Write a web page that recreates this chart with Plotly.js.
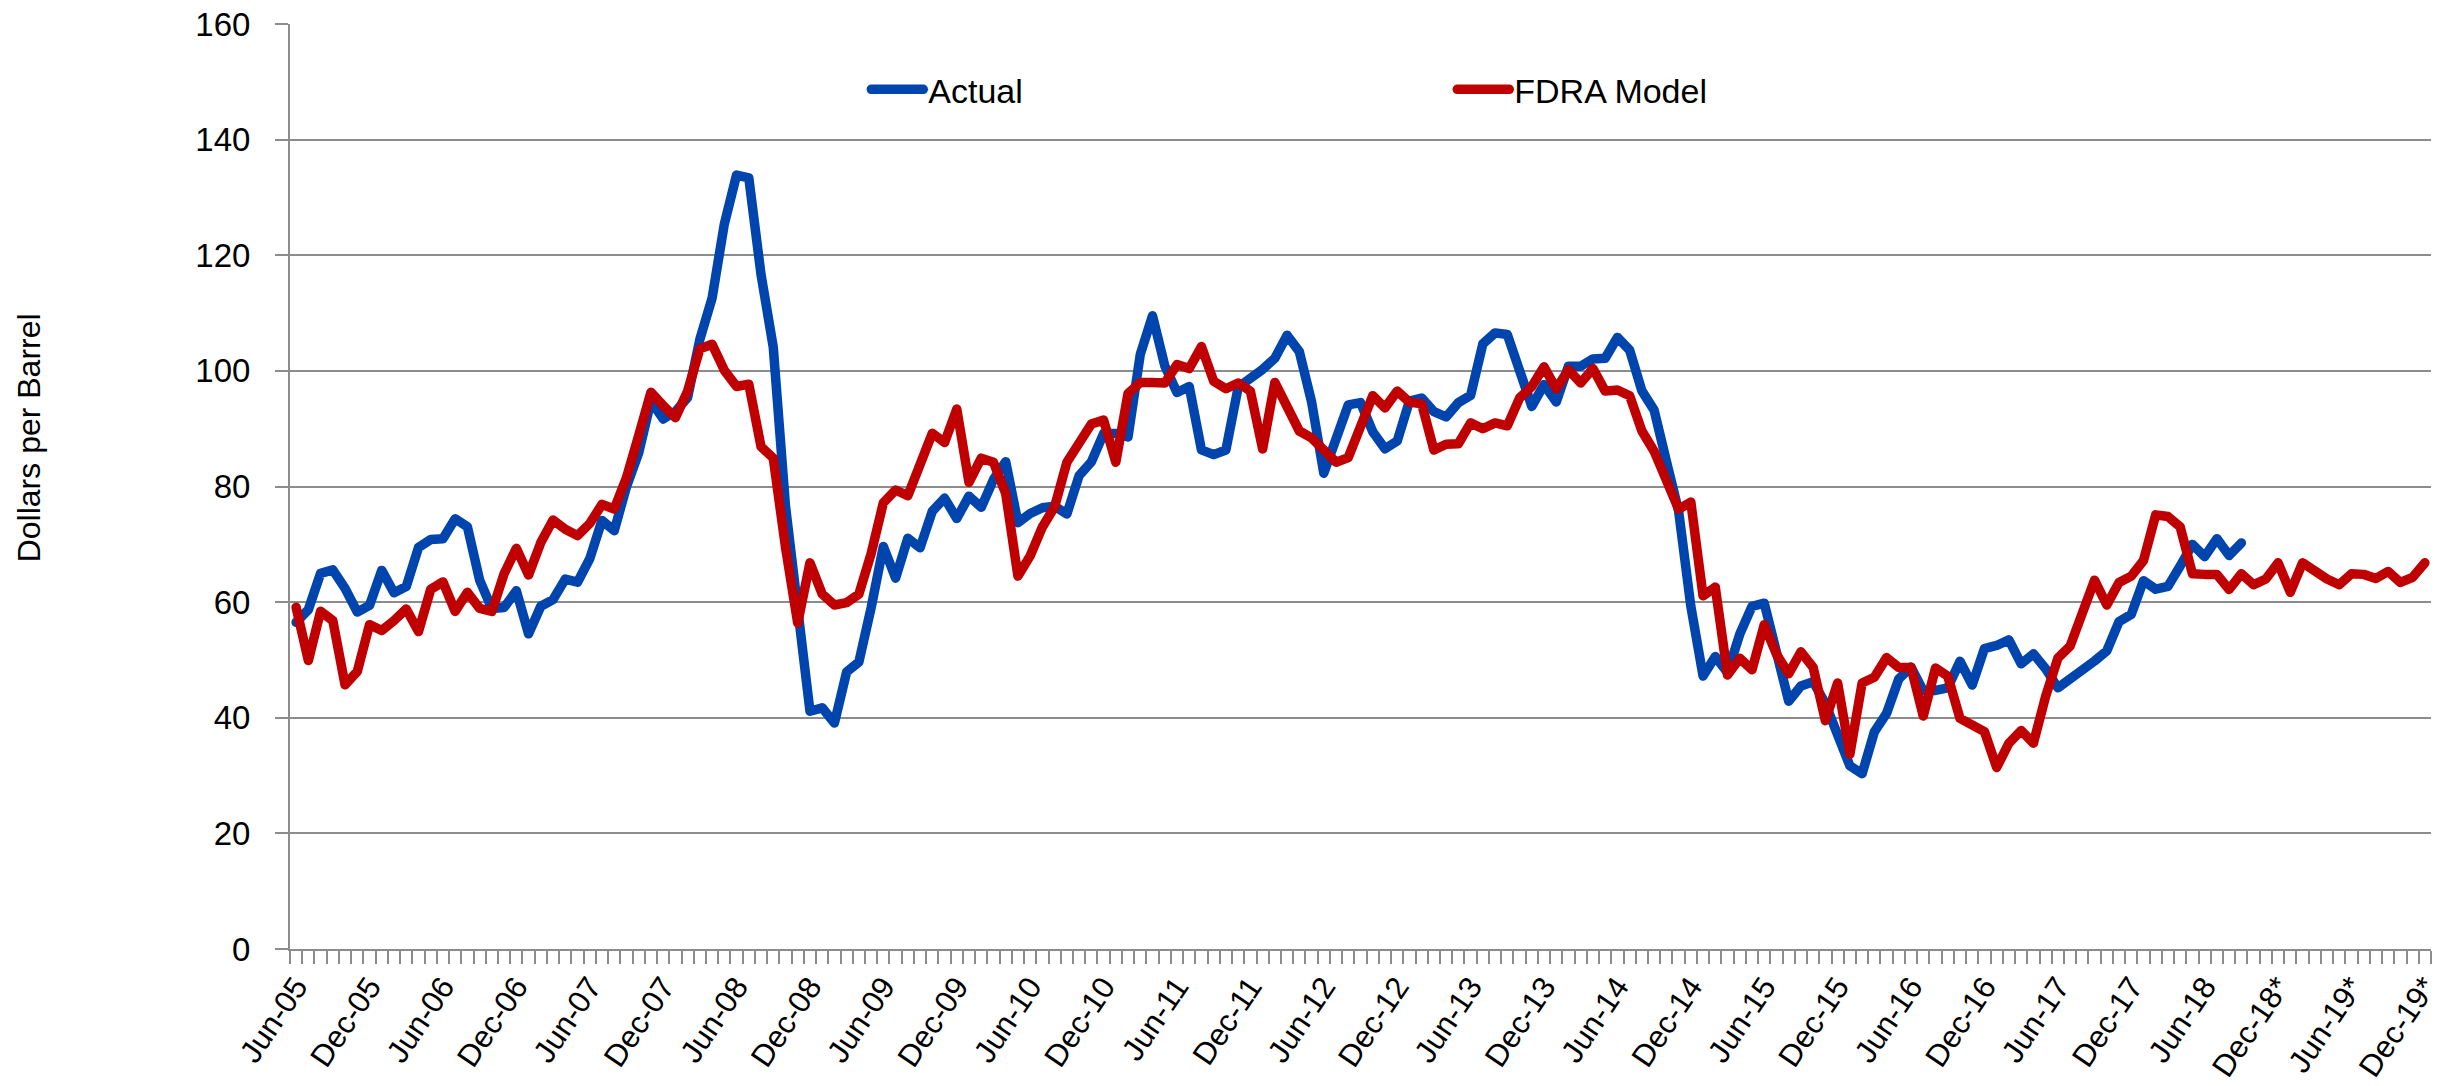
<!DOCTYPE html>
<html><head><meta charset="utf-8">
<script src="https://cdn.plot.ly/plotly-3.0.1.min.js"></script>
<style>
html,body{margin:0;padding:0;background:#fff;}
#chart{width:2458px;height:1086px;}
.js-line{stroke-linejoin:round !important;stroke-linecap:round !important;}
</style>
</head><body><div id="chart"></div>
<script>
const tickLabels = ["Jun-05","Dec-05","Jun-06","Dec-06","Jun-07","Dec-07","Jun-08","Dec-08","Jun-09","Dec-09",
  "Jun-10","Dec-10","Jun-11","Dec-11","Jun-12","Dec-12","Jun-13","Dec-13","Jun-14","Dec-14",
  "Jun-15","Dec-15","Jun-16","Dec-16","Jun-17","Dec-17","Jun-18","Dec-18*","Jun-19*","Dec-19*"];
const monthsPerLabel = 6;
const yTicks = [0,20,40,60,80,100,120,140,160];
const seriesNames = ["Actual","FDRA Model"];

// Actual: Jun-05 .. Sep-18 (monthly)
const actual = [
  56.50,58.70,64.97,65.57,62.37,58.30,59.43,
  65.49,61.63,62.69,69.44,70.84,70.95,74.41,73.04,63.80,58.89,59.08,61.96,
  54.51,59.28,60.44,63.98,63.45,67.49,74.12,72.36,79.92,85.80,94.77,91.69,
  92.97,95.39,105.45,112.58,125.40,133.88,133.37,116.67,104.11,76.61,57.31,41.12,
  41.71,39.09,47.94,49.65,59.03,69.64,64.15,71.05,69.41,75.72,77.99,74.47,
  78.33,76.39,81.20,84.29,73.74,75.34,76.32,76.60,75.24,81.89,84.25,89.15,
  89.17,88.58,102.86,109.53,100.90,96.26,97.30,86.33,85.52,86.32,97.16,98.56,
  100.27,102.20,106.16,103.32,94.66,82.30,87.90,94.13,94.51,89.49,86.53,87.86,
  94.76,95.31,92.94,92.02,94.51,95.77,104.67,106.57,106.29,100.54,93.86,97.63,
  94.62,100.82,100.80,102.07,102.18,105.79,103.59,96.54,93.21,84.40,75.79,59.29,
  47.22,50.58,47.82,54.45,59.27,59.82,50.90,42.87,45.48,46.22,42.44,37.19,
  31.68,30.32,37.55,40.75,46.71,48.76,44.65,44.72,45.18,49.78,45.66,51.97,
  52.50,53.47,49.33,51.06,48.48,45.18,46.63,48.04,49.82,51.58,56.64,57.88,
  63.70,62.23,62.73,66.25,69.98,67.87,70.98,68.06,70.23
];

// FDRA Model: Jun-05 .. Dec-19 (monthly)
const fdraModel = [
  59.1,49.9,58.4,56.8,45.7,48.0,56.1,
  55.1,56.8,58.8,54.9,62.2,63.5,58.4,61.7,58.9,58.4,64.9,69.3,
  64.7,70.3,74.2,72.6,71.5,73.6,76.9,76.1,81.5,88.8,96.3,94.0,
  91.9,96.5,103.8,104.6,100.1,97.3,97.7,86.9,84.9,69.5,56.4,66.8,
  61.4,59.5,59.9,61.4,68.4,77.2,79.4,78.4,84.2,89.2,87.6,93.4,
  80.7,84.9,84.2,78.8,64.5,68.0,73.0,76.5,84.2,87.3,90.8,91.5,
  84.2,96.1,98.0,98.0,97.9,101.1,100.4,104.2,98.2,96.9,97.9,96.5,
  86.5,98.0,93.8,89.6,88.4,86.1,84.2,85.0,90.2,95.7,93.6,96.5,
  94.6,94.3,86.3,87.3,87.4,91.0,90.0,91.0,90.5,95.3,97.3,100.7,
  96.9,100.2,97.9,100.4,96.5,96.7,95.7,89.6,86.1,81.1,76.1,77.3,
  61.1,62.6,47.4,50.3,48.3,56.1,51.0,47.6,51.4,48.7,39.5,46.0,
  33.7,46.0,47.0,50.4,48.7,48.7,40.3,48.6,47.2,39.9,38.9,37.6,
  31.4,35.6,37.8,35.6,43.7,50.3,52.4,58.4,63.8,59.5,63.4,64.5,
  67.2,75.1,74.8,73.0,64.9,64.8,64.8,62.2,64.9,63.0,64.0,66.8,
  61.7,66.8,65.3,64.0,63.0,64.9,64.8,64.1,65.3,63.4,64.3,66.8
];

const idx = arr => arr.map((_, i) => i);
const tickPositions = tickLabels.map((_, k) => k * monthsPerLabel);
const nMonths = fdraModel.length;

const gray = '#8c8c8c';
const traces = [
  {x: idx(actual), y: actual, name: seriesNames[0], type: 'scatter', mode: 'lines',
   line: {color: '#0045AD', width: 9.5}, hoverinfo: 'skip'},
  {x: idx(fdraModel), y: fdraModel, name: seriesNames[1], type: 'scatter', mode: 'lines',
   line: {color: '#C00000', width: 9.5}, hoverinfo: 'skip'}
];

const layout = {
  width: 2458, height: 1086,
  margin: {l: 290, r: 27, t: 23.5, b: 136.5, pad: 0},
  paper_bgcolor: '#fff', plot_bgcolor: '#fff',
  font: {family: 'Liberation Sans, Arial, sans-serif', color: '#000'},
  showlegend: true,
  xaxis: {
    range: [-0.5, nMonths - 0.5],
    tickmode: 'array', tickvals: tickPositions, ticktext: tickLabels,
    tickangle: -56, tickfont: {size: 31},
    ticks: '', showgrid: false, zeroline: false,
    showline: true, linecolor: gray, linewidth: 2,
    ticklabelstandoff: 5,
    minor: {tickmode: 'linear', tick0: 0.5, dtick: 1, ticks: 'outside', ticklen: 13,
            tickwidth: 2, tickcolor: gray, showgrid: false}
  },
  yaxis: {
    range: [0, 160], tickmode: 'array', tickvals: yTicks,
    tickfont: {size: 33},
    ticks: 'outside', ticklen: 13, tickwidth: 2, tickcolor: gray,
    showgrid: true, gridcolor: gray, gridwidth: 2,
    zeroline: false, showline: true, linecolor: gray, linewidth: 2,
    ticklabelstandoff: 18
  },
  legend: {
    orientation: 'h', x: (866 - 290) / 2140, xanchor: 'left',
    y: 0.929, yanchor: 'middle',
    font: {size: 34}, itemwidth: 52,
    entrywidth: 519, entrywidthmode: 'pixels',
    bgcolor: 'rgba(0,0,0,0)', borderwidth: 0
  },
  annotations: [{
    text: 'Dollars per Barrel', xref: 'paper', yref: 'paper',
    x: -0.1215, y: 0.553, xanchor: 'center', yanchor: 'middle',
    textangle: -90, showarrow: false, font: {size: 32}
  }]
};

Plotly.newPlot('chart', traces, layout, {displayModeBar: false, staticPlot: true});
</script>
</body></html>
